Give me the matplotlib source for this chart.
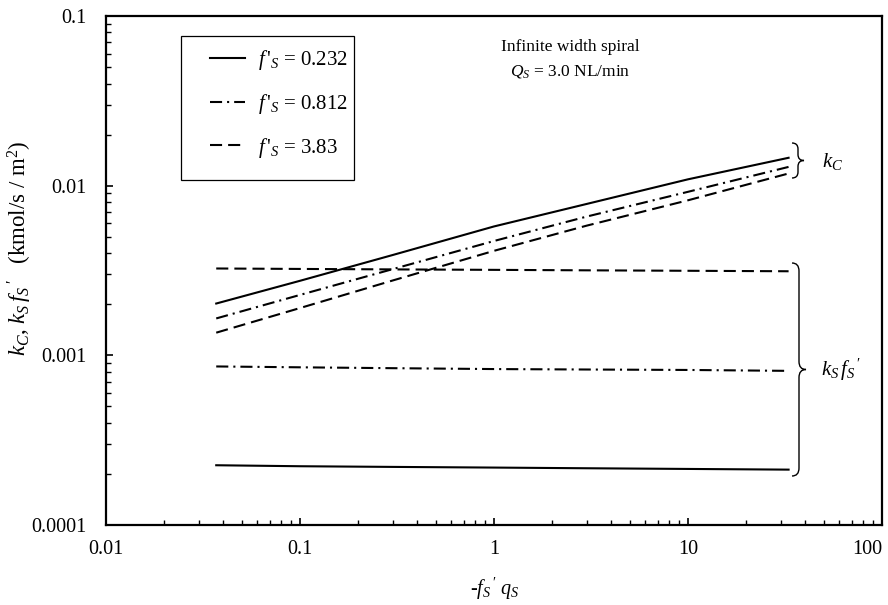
import matplotlib
matplotlib.use("Agg")
import matplotlib.pyplot as plt
from matplotlib.path import Path
from matplotlib.patches import PathPatch, Rectangle
import numpy as np

plt.rcParams['font.family'] = ['Liberation Serif', 'DejaVu Serif']
plt.rcParams['mathtext.fontset'] = 'custom'
plt.rcParams['mathtext.rm'] = 'Liberation Serif'
plt.rcParams['mathtext.it'] = 'Liberation Serif:italic'
plt.rcParams['mathtext.bf'] = 'Liberation Serif:bold'

# ---- data ----
x_vals = [0.037, 0.1, 0.3, 1.0, 3.0, 10.0, 33.0]
kc_0232 = [0.00202, 0.00275, 0.0039, 0.00575, 0.0078, 0.0109, 0.0146]
kc_0812 = [0.00165, 0.00227, 0.00322, 0.00472, 0.00657, 0.0092, 0.0129]
kc_383 = [0.00136, 0.0019, 0.00276, 0.00413, 0.00581, 0.0082, 0.0118]
ksf_0232 = [0.000225, 0.000222, 0.000220, 0.000218, 0.000216, 0.000214, 0.000212]
ksf_0812 = [0.00086, 0.00085, 0.00084, 0.00083, 0.000825, 0.00082, 0.00081]
ksf_383 = [0.00325, 0.00323, 0.00321, 0.00319, 0.00317, 0.00315, 0.00313]
legend_labels = [r"$f\,'_{S}$ = 0.232", r"$f\,'_{S}$ = 0.812", r"$f\,'_{S}$ = 3.83"]
x_ticks = [0.01, 0.1, 1, 10, 100]
x_ticklabels = ["0.01", "0.1", "1", "10", "100"]
y_ticks = [0.0001, 0.001, 0.01, 0.1]
y_ticklabels = ["0.0001", "0.001", "0.01", "0.1"]

W, H = 888, 605
fig = plt.figure(figsize=(W / 100, H / 100), dpi=100)
L, R, T, B = 106, 882, 16, 525
ax = fig.add_axes([L / W, 1 - B / H, (R - L) / W, (B - T) / H])

def ax_frac(px, py):
    return ((px - L) / (R - L), (B - py) / (B - T))

lw = 1.5
dash = (0, (5.8, 2.9))
dashdot = (0, (5.8, 2.4, 1.0, 2.4))

h1, = ax.plot(x_vals, kc_0232, color='black', lw=lw, linestyle='-')
h2, = ax.plot(x_vals, kc_0812, color='black', lw=lw, linestyle=dashdot)
h3, = ax.plot(x_vals, kc_383, color='black', lw=lw, linestyle=dash)
ax.plot(x_vals, ksf_0232, color='black', lw=lw, linestyle='-')
ax.plot(x_vals, ksf_0812, color='black', lw=lw, linestyle=dashdot)
ax.plot(x_vals, ksf_383, color='black', lw=lw, linestyle=dash)

ax.set_xscale('log')
ax.set_yscale('log')
ax.set_xlim(0.01, 100)
ax.set_ylim(0.0001, 0.1)
ax.set_xticks(x_ticks)
ax.set_xticklabels(x_ticklabels)
ax.set_yticks(y_ticks)
ax.set_yticklabels(y_ticklabels)
ax.tick_params(axis='both', which='major', direction='in', length=5, width=1.2,
               labelsize=14.5, top=False, right=False)
ax.tick_params(axis='x', which='major', pad=11)
ax.tick_params(axis='y', which='major', pad=14)
ax.tick_params(axis='both', which='minor', direction='in', length=3.5, width=1.0,
               top=False, right=False)
ax.get_xticklabels()[-1].set_horizontalalignment('right')
for s in ax.spines.values():
    s.set_linewidth(1.6)

ax.set_xlabel(r"-$f_S\,'\;q_S$", fontsize=14.5, labelpad=12)
fig.text(20 / W, 1 - 248 / H, r"$k_C$, $k_S\,f_S\,'\quad$(kmol/s / m$^2$)", fontsize=16.5,
         rotation=90, ha='center', va='center')

# legend frame
x0, y0 = ax_frac(181, 180)
x1, y1 = ax_frac(354, 36)
ax.add_patch(Rectangle((x0, y0), x1 - x0, y1 - y0, transform=ax.transAxes,
                       fill=False, edgecolor='black', lw=0.9, zorder=5))
lx, ly = ax_frac(210, 48)
leg = ax.legend([h1, h2, h3], legend_labels, loc='upper left', bbox_to_anchor=(lx, ly),
                frameon=False, fontsize=15, handlelength=1.7, handletextpad=0.6,
                labelspacing=0.95, borderpad=0, borderaxespad=0)

tx, ty = ax_frac(570, 47)
ax.text(tx, ty, "Infinite width spiral", transform=ax.transAxes, ha='center', va='center', fontsize=12.5)
tx, ty = ax_frac(570, 72)
ax.text(tx, ty, r"$Q_S$ = 3.0 NL/min", transform=ax.transAxes, ha='center', va='center', fontsize=12.5)

def brace(xl, xm, xt, yt, yb, r):
    yc = (yt + yb) / 2
    pts_px = [(xl, yt), (xm, yt), (xm, yt + r), (xm, yc - r), (xm, yc), (xt, yc),
              (xm, yc), (xm, yc + r), (xm, yb - r), (xm, yb), (xl, yb)]
    codes = [Path.MOVETO, Path.CURVE3, Path.CURVE3, Path.LINETO, Path.CURVE3, Path.CURVE3,
             Path.CURVE3, Path.CURVE3, Path.LINETO, Path.CURVE3, Path.CURVE3]
    pts = [ax_frac(px, py) for px, py in pts_px]
    ax.add_patch(PathPatch(Path(pts, codes), transform=ax.transAxes, fill=False,
                           edgecolor='black', lw=1.0, clip_on=False))

brace(792, 798, 804, 143, 178, 6)
brace(792, 799, 806, 263, 476, 8)

tx, ty = ax_frac(822, 161)
ax.text(tx, ty, r"$k_C$", transform=ax.transAxes, ha='left', va='center', fontsize=15)
tx, ty = ax_frac(821, 370)
ax.text(tx, ty, r"$k_S\,f_S\,'$", transform=ax.transAxes, ha='left', va='center', fontsize=15)

fig.savefig("out.png", dpi=100)
